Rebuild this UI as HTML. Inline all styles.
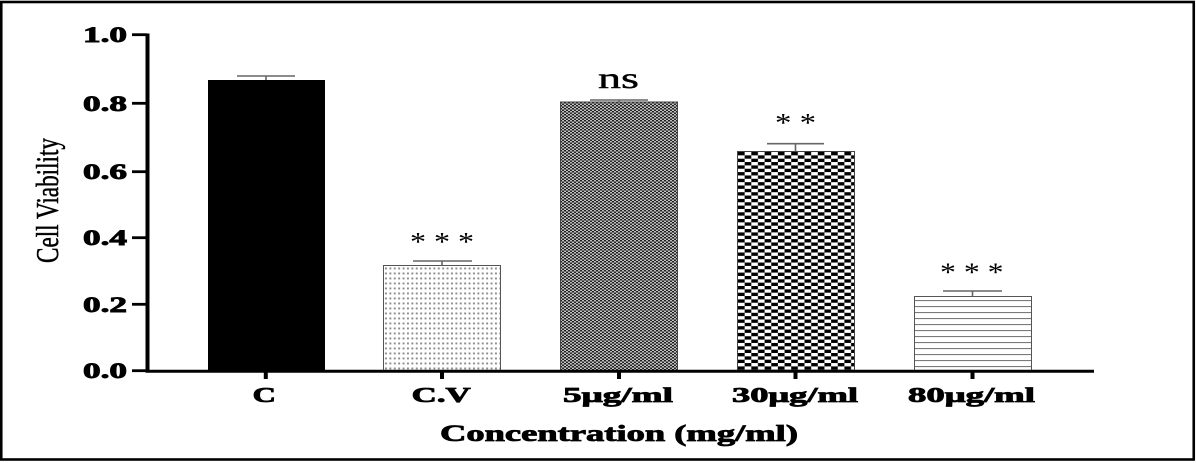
<!DOCTYPE html>
<html>
<head>
<meta charset="utf-8">
<style>
  html, body { margin: 0; padding: 0; background: #fff; }
  svg { display: block; }
  text { font-family: "Liberation Serif", "DejaVu Serif", serif; fill: #000; }
</style>
</head>
<body>
<svg width="1196" height="463" viewBox="0 0 1196 463" xmlns="http://www.w3.org/2000/svg">
  <defs>
    <pattern id="dots" patternUnits="userSpaceOnUse" x="384" y="266" width="4.4" height="5">
      <rect width="4.4" height="5" fill="#fff"/>
      <rect x="1" y="1.5" width="1.9" height="1.9" fill="#8a8a8a"/>
    </pattern>
    <pattern id="fine" patternUnits="userSpaceOnUse" x="560" y="102" width="4" height="3">
      <rect x="0" y="0" width="2" height="1.5" fill="#1e1e1e"/>
      <rect x="2" y="0" width="2" height="1.5" fill="#bcbcbc"/>
      <rect x="0" y="1.5" width="2" height="1.5" fill="#c4c4c4"/>
      <rect x="2" y="1.5" width="2" height="1.5" fill="#262626"/>
    </pattern>
    <pattern id="check" patternUnits="userSpaceOnUse" x="738" y="152" width="13.3" height="6.7">
      <rect width="13.3" height="6.7" fill="#fff"/>
      <rect x="0" y="0" width="6.65" height="3.35" fill="#000"/>
      <rect x="6.65" y="3.35" width="6.65" height="3.35" fill="#000"/>
    </pattern>
    <pattern id="hlines" patternUnits="userSpaceOnUse" x="914" y="296" width="10" height="6">
      <rect width="10" height="6" fill="#fff"/>
      <rect x="0" y="4" width="10" height="1.1" fill="#7a7a7a"/>
    </pattern>
  </defs>

  <!-- outer frame -->
  <rect x="1.25" y="2" width="1192.5" height="457.5" fill="#fff" stroke="#000" stroke-width="2.6"/>

  <!-- bars -->
  <rect x="208" y="80" width="117" height="291" fill="#000"/>
  <rect x="383.5" y="265.5" width="117" height="105.5" fill="url(#dots)" stroke="#555" stroke-width="1"/>
  <rect x="560.5" y="102" width="117" height="269" fill="url(#fine)" stroke="#444" stroke-width="1"/>
  <rect x="737.5" y="151.5" width="117" height="219.5" fill="url(#check)" stroke="#444" stroke-width="1"/>
  <rect x="914.5" y="296.5" width="117" height="74.5" fill="url(#hlines)" stroke="#555" stroke-width="1"/>

  <!-- error bars -->
  <g stroke="#666" stroke-width="1.6" fill="none">
    <line x1="237" y1="76" x2="295" y2="76"/>
    <line x1="266" y1="76" x2="266" y2="80"/>
    <line x1="413" y1="261" x2="472" y2="261"/>
    <line x1="442" y1="261" x2="442" y2="265"/>
    <line x1="590" y1="100" x2="648" y2="100"/>
    <line x1="619" y1="100" x2="619" y2="102"/>
    <line x1="767" y1="143.7" x2="824" y2="143.7"/>
    <line x1="795.5" y1="143.7" x2="795.5" y2="151"/>
    <line x1="943" y1="291" x2="1002" y2="291"/>
    <line x1="972.5" y1="291" x2="972.5" y2="296"/>
  </g>

  <!-- axes -->
  <line x1="147.5" y1="33.5" x2="147.5" y2="372.5" stroke="#000" stroke-width="4"/>
  <line x1="145.5" y1="371.3" x2="1094" y2="371.3" stroke="#000" stroke-width="3"/>
  <g stroke="#000" stroke-width="2.8">
    <line x1="132" y1="34.7" x2="147" y2="34.7"/>
    <line x1="132" y1="103.3" x2="147" y2="103.3"/>
    <line x1="132" y1="171.7" x2="147" y2="171.7"/>
    <line x1="132" y1="237.7" x2="147" y2="237.7"/>
    <line x1="132" y1="304.3" x2="147" y2="304.3"/>
    <line x1="132" y1="370.7" x2="147" y2="370.7"/>
  </g>
  <g stroke="#000" stroke-width="4">
    <line x1="265.8" y1="371" x2="265.8" y2="379"/>
    <line x1="442" y1="371" x2="442" y2="379"/>
    <line x1="619" y1="371" x2="619" y2="379"/>
    <line x1="795.5" y1="371" x2="795.5" y2="379"/>
    <line x1="972.5" y1="371" x2="972.5" y2="379"/>
  </g>

  <!-- y tick labels -->
  <g font-weight="bold" font-size="22" text-anchor="end" stroke="#000" stroke-width="0.9">
    <text x="127" y="42.2" textLength="44" lengthAdjust="spacingAndGlyphs">1.0</text>
    <text x="127" y="110.8" textLength="44" lengthAdjust="spacingAndGlyphs">0.8</text>
    <text x="127" y="179.2" textLength="44" lengthAdjust="spacingAndGlyphs">0.6</text>
    <text x="127" y="245.2" textLength="44" lengthAdjust="spacingAndGlyphs">0.4</text>
    <text x="127" y="311.8" textLength="44" lengthAdjust="spacingAndGlyphs">0.2</text>
    <text x="127" y="378.2" textLength="44" lengthAdjust="spacingAndGlyphs">0.0</text>
  </g>

  <!-- y axis title -->
  <text transform="translate(58,200.5) rotate(-90)" font-size="32" text-anchor="middle" textLength="125" lengthAdjust="spacingAndGlyphs" stroke="#000" stroke-width="0.5">Cell Viability</text>

  <!-- x tick labels -->
  <g font-weight="bold" font-size="21" stroke="#000" stroke-width="0.8">
    <text x="252.7" y="401.8" textLength="23.3" lengthAdjust="spacingAndGlyphs">C</text>
    <text x="411.7" y="401.8" textLength="59" lengthAdjust="spacingAndGlyphs">C.V</text>
    <text x="563" y="401.8" textLength="110" lengthAdjust="spacingAndGlyphs">5μg/ml</text>
    <text x="732" y="401.8" textLength="126" lengthAdjust="spacingAndGlyphs">30μg/ml</text>
    <text x="908" y="401.8" textLength="127" lengthAdjust="spacingAndGlyphs">80μg/ml</text>
  </g>

  <!-- x axis title -->
  <text x="440" y="441" font-weight="bold" font-size="23" textLength="358" lengthAdjust="spacingAndGlyphs" stroke="#000" stroke-width="0.8">Concentration (mg/ml)</text>

  <!-- significance -->
  <text x="598" y="88" font-size="30" textLength="41" lengthAdjust="spacingAndGlyphs" stroke="#000" stroke-width="0.4">ns</text>
  <g font-size="26" fill="#222">
    <text x="410" y="250.5" textLength="64" lengthAdjust="spacingAndGlyphs">* * *</text>
    <text x="775" y="131.3" textLength="41" lengthAdjust="spacingAndGlyphs">* *</text>
    <text x="940" y="281" textLength="63.5" lengthAdjust="spacingAndGlyphs">* * *</text>
  </g>
</svg>
</body>
</html>
